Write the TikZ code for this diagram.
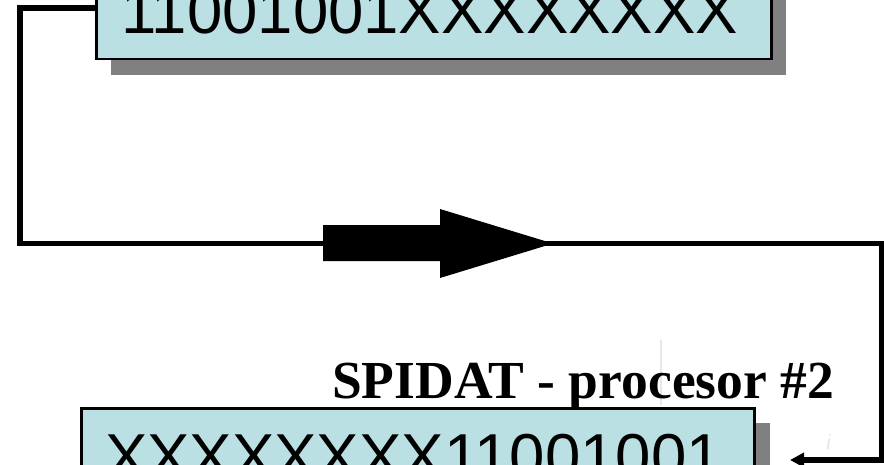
\documentclass[tikz,border=0pt]{standalone}
\usepackage{fontspec}
\setmainfont{Liberation Sans}
\newfontfamily\labelserif{Liberation Serif}
\usetikzlibrary{arrows.meta}
\definecolor{regfill}{RGB}{186,224,227}
\definecolor{regshadow}{RGB}{128,128,128}
\begin{document}
\begin{tikzpicture}[x=1pt,y=1pt,
  register/.style={draw=black, line width=2.5pt, fill=regfill, rectangle, inner sep=0pt},
  shadowbox/.style={fill=regshadow, rectangle, inner sep=0pt},
  wire/.style={line width=5.8pt, line join=miter},
  bits/.style={font=\fontsize{63.5}{76}\selectfont, inner sep=0pt, anchor=base west},
  faint/.style={color=black!9}]
\useasboundingbox (0,0) rectangle (884,-464);
\clip (0,0) rectangle (884,-464);

% faint marks behind everything
\draw[faint, line width=1.5pt] (661,-340) -- (661,-405);
\node[faint, font=\fontsize{22}{24}\selectfont, rotate=-10, inner sep=0pt] (mark) at (829,-442) {i};

% top shift register (processor #1)
\node[shadowbox, minimum width=675pt, minimum height=120pt, anchor=south west] (topshadow) at (111,-75) {};
\node[register, minimum width=675pt, minimum height=120pt, anchor=south west] (topreg) at (95,-60) {};
\node[bits] (toptext) at (121,-33) {11001001XXXXXXXX};

% bottom shift register (processor #2)
\node[shadowbox, minimum width=673pt, minimum height=120pt, anchor=north west] (botshadow) at (97,-423) {};
\node[register, minimum width=673pt, minimum height=120pt, anchor=north west] (botreg) at (80,-407) {};
\node[bits] (bottext) at (105,-478.5) {XXXXXXXX11001001};

\node[font=\labelserif\bfseries\fontsize{53.5}{64}\selectfont, anchor=base west, inner sep=0pt] (spilabel) at (332,-398) {SPIDAT - procesor \#2};

% data path between the registers
\coordinate (c1) at (20,-8);
\coordinate (c2) at (20,-243.5);
\coordinate (c3) at (881.5,-243.5);
\coordinate (c4) at (881.5,-460);
\coordinate (wireend) at (790,-460);
\draw[wire, -{Triangle[length=14pt,width=14pt]}] (topreg.west |- c1) -- (c1) -- (c2) -- (c3) -- (c4) -- (wireend);

% direction of transfer
\fill (323,-225) -- (440,-225) -- (440,-209) -- (553,-243.5) -- (440,-278) -- (440,-261) -- (323,-261) -- cycle;
\end{tikzpicture}
\end{document}
